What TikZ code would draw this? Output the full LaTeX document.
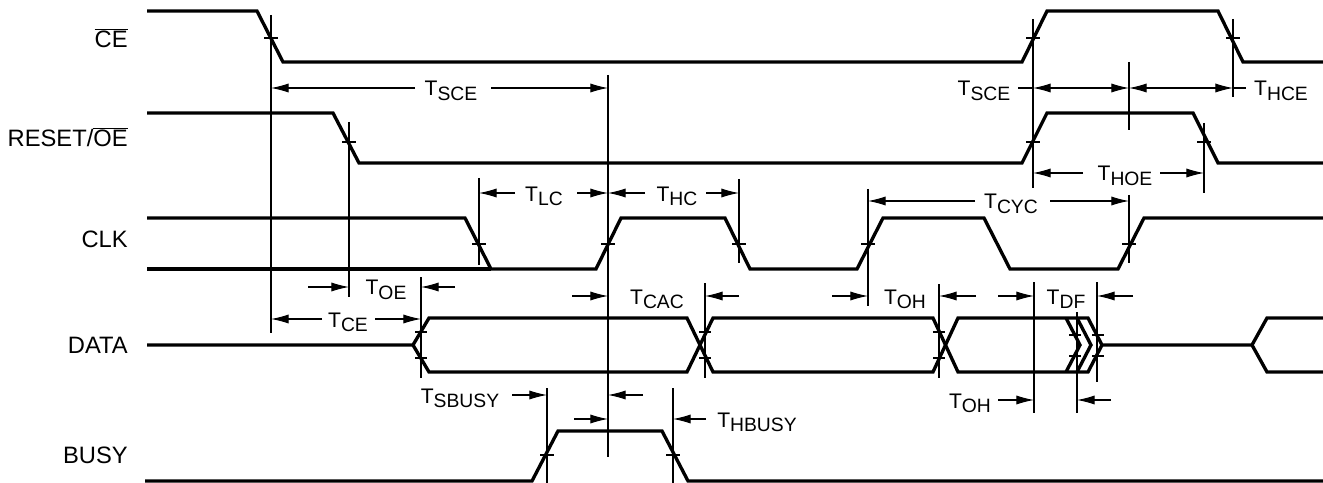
\documentclass[tikz,border=0pt]{standalone}
\usepackage{fontspec}
\setmainfont{Liberation Sans}
\usetikzlibrary{arrows.meta}
\newcommand{\tname}[1]{{\fontsize{12}{14}\selectfont T\raisebox{-2.3pt}{\fontsize{11}{13}\selectfont #1}}}

\begin{document}
\begin{tikzpicture}[x=0.02cm,y=-0.02cm,>={Latex[length=10pt,width=5.2pt]},
        sig/.style={line width=1.9pt},
        hair/.style={line width=0.6pt},
        dim/.style={line width=0.6pt,->},
        sname/.style={anchor=base east,inner sep=0pt,font=\fontsize{13.5}{16}\selectfont},
        tlab/.style={anchor=base,inner sep=0pt}]
        \useasboundingbox (0,0) rectangle (1323,483);

        \node (ce) at (128,48) [sname] {$\overline{\mbox{CE}}$};
        \node (oe) at (128,147) [sname] {RESET/$\overline{\mbox{OE}}$};
        \node (clk) at (128,248) [sname] {CLK};
        \node (data) at (128,353) [sname] {DATA};
        \node (busy) at (128,463) [sname] {BUSY};

        \draw[sig] (147,11)--(257,11)--(283,62)--(1022,62)--(1047,11)--(1218,11)--(1243,62)--(1323,62);
        \draw[sig] (147,113)--(333,113)--(359,163)--(1022,163)--(1047,113)--(1193,113)--(1218,163)--(1323,163);
        \draw[sig] (147,218)--(465,218)--(491,269)--(596,269)--(621,218)--(725,218)--(750,269)--(857,269)--(883,218)--(984,218)--(1010,269)--(1118,269)--(1144,218)--(1323,218);
        \draw[sig] (147,269)--(491,269);
        \draw[sig] (147,345)--(413,345)--(429,318)--(687,318)--(713,372)--(933,372)--(958,318)--(1088,318)--(1102,345)--(1252,345)--(1267,318)--(1323,318);
        \draw[sig] (413,345)--(429,372)--(687,372)--(713,318)--(933,318)--(958,372)--(1088,372)--(1102,345);
        \draw[sig] (1252,345)--(1267,372)--(1323,372);
        \draw[sig] (1066,318)--(1080,345)--(1066,372);
        \draw[sig] (1077,318)--(1091,345)--(1077,372);
        \draw[sig] (145,481)--(532,481)--(558,431)--(662,431)--(688,481)--(1323,481);

        \draw[hair] (264,38)--(278,38) (1026,38)--(1040,38) (1226,38)--(1240,38);
        \draw[hair] (342,142)--(356,142) (1026,142)--(1040,142) (1197,142)--(1211,142);
        \draw[hair] (472,244)--(486,244) (601,244)--(615,244) (732,244)--(746,244) (861,244)--(875,244) (1122,244)--(1136,244);
        \draw[hair] (415,332)--(427,332) (415,358)--(427,358) (699,332)--(711,332) (699,358)--(711,358) (933,332)--(945,332) (933,358)--(945,358);
        \draw[hair] (1069,335)--(1081,335) (1069,356)--(1081,356) (1092,335)--(1104,335) (1092,356)--(1104,356);
        \draw[hair] (540,455)--(554,455) (666,455)--(680,455);

        \draw[hair] (271,15)--(271,333);
        \draw[hair] (349,122)--(349,297);
        \draw[hair] (608,75)--(608,457);
        \draw[hair] (479,178)--(479,265);
        \draw[hair] (739,179)--(739,263);
        \draw[hair] (868,189)--(868,306);
        \draw[hair] (1129,195)--(1129,263);
        \draw[hair] (1033,19)--(1033,188);
        \draw[hair] (1129,62)--(1129,130);
        \draw[hair] (1233,19)--(1233,97);
        \draw[hair] (1204,123)--(1204,193);
        \draw[hair] (421,277)--(421,378);
        \draw[hair] (705,283)--(705,378);
        \draw[hair] (939,284)--(939,378);
        \draw[hair] (1034,282)--(1034,413);
        \draw[hair] (1097,282)--(1097,382);
        \draw[hair] (1077,312)--(1077,413);
        \draw[hair] (547,388)--(547,483);
        \draw[hair] (673,388)--(673,483);

        \node (tsce) at (451,96) [tlab] {\tname{SCE}};
        \draw[dim] (415,88)--(271,88);
        \draw[dim] (491,88)--(608,88);

        \node (tsce2) at (984,96) [tlab] {\tname{SCE}};
        \node (thce) at (1281,96) [tlab] {\tname{HCE}};
        \draw[hair] (1018,88)--(1033,88);
        \draw[<->,hair] (1033,88)--(1129,88);
        \draw[<->,hair] (1129,88)--(1233,88);
        \draw[hair] (1233,88)--(1246,88);

        \node (thoe) at (1125,181) [tlab] {\tname{HOE}};
        \draw[dim] (1083,173)--(1033,173);
        \draw[dim] (1160,173)--(1204,173);

        \node (tlc) at (544,201) [tlab] {\tname{LC}};
        \draw[dim] (515,193)--(479,193);
        \draw[dim] (577,193)--(608,193);

        \node (thc) at (677,201) [tlab] {\tname{HC}};
        \draw[dim] (645,193)--(608,193);
        \draw[dim] (706,193)--(739,193);

        \node (tcyc) at (1011,209) [tlab] {\tname{CYC}};
        \draw[dim] (975,201)--(868,201);
        \draw[dim] (1050,201)--(1129,201);

        \node (toe) at (386,295) [tlab] {\tname{OE}};
        \draw[dim] (308,287)--(349,287);
        \draw[dim] (455,287)--(421,287);

        \node (tce) at (348,327) [tlab] {\tname{CE}};
        \draw[dim] (322,319)--(271,319);
        \draw[dim] (375,319)--(421,319);

        \node (tcac) at (657,304) [tlab] {\tname{CAC}};
        \draw[dim] (572,296)--(608,296);
        \draw[dim] (739,296)--(705,296);

        \node (toh) at (905,304) [tlab] {\tname{OH}};
        \draw[dim] (832,296)--(868,296);
        \draw[dim] (976,296)--(939,296);

        \node (tdf) at (1066,304) [tlab] {\tname{DF}};
        \draw[dim] (998,296)--(1034,296);
        \draw[dim] (1133,296)--(1097,296);

        \node (toh2) at (970,408) [tlab] {\tname{OH}};
        \draw[dim] (998,400)--(1034,400);
        \draw[dim] (1111,400)--(1077,400);

        \node (tsbusy) at (460,403) [tlab] {\tname{SBUSY}};
        \draw[dim] (512,395)--(547,395);
        \draw[dim] (643,395)--(608,395);

        \node (thbusy) at (757,427) [tlab] {\tname{HBUSY}};
        \draw[dim] (574,419)--(608,419);
        \draw[dim] (706,419)--(673,419);

    \end{tikzpicture}
\end{document}
